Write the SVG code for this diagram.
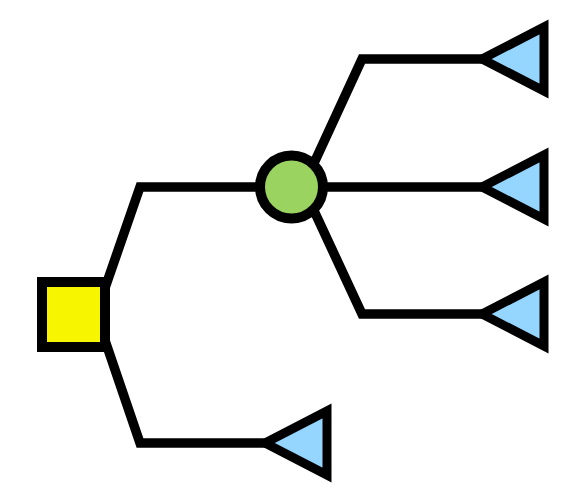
<svg xmlns="http://www.w3.org/2000/svg" width="569" height="502" viewBox="0 0 569 502">
<style>
.edge{fill:none;stroke:#000;stroke-width:9.5;stroke-linejoin:miter}
.leaf{fill:#94D6FF;stroke:#000;stroke-width:9;stroke-linejoin:miter}
</style>
<rect width="569" height="502" fill="#fff"/>
<g id="connectors">
<polyline class="edge" points="96,314 140,187 303,187"/>
<polyline class="edge" points="96,314 140,443 266,443"/>
<polyline class="edge" points="303,187 362,59 484,59"/>
<polyline class="edge" points="303,187 484,187"/>
<polyline class="edge" points="303,187 362,314 484,314"/>
</g>
<g id="decision"><rect x="42" y="282" width="63" height="65" fill="#F7F500" stroke="#000" stroke-width="10"/></g>
<g id="chance"><circle cx="291.5" cy="187" r="31.5" fill="#9AD35F" stroke="#000" stroke-width="10"/></g>
<g id="end1"><polygon class="leaf" points="482,59 544,27 544,91"/></g>
<g id="end2"><polygon class="leaf" points="482,187 544,155 544,219"/></g>
<g id="end3"><polygon class="leaf" points="482,314 544,282 544,346"/></g>
<g id="end4"><polygon class="leaf" points="265,443 327,411 327,475"/></g>
</svg>
